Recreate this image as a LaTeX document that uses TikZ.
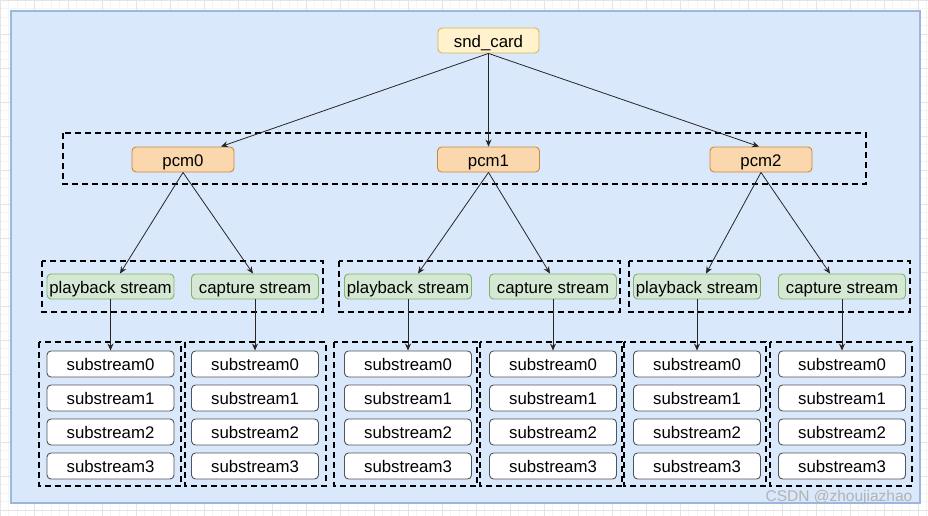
\documentclass[tikz,border=0pt]{standalone}
\usepackage{fontspec}
\setmainfont{Liberation Sans}
\usetikzlibrary{arrows.meta}
\definecolor{bgblue}{HTML}{DAE8FC}
\definecolor{bgblueb}{HTML}{9DB6DD}
\definecolor{sndfill}{HTML}{FFF2CC}
\definecolor{snddraw}{HTML}{D6B656}
\definecolor{pcmfill}{HTML}{FAD7AC}
\definecolor{pcmdraw}{HTML}{C98A3C}
\definecolor{stfill}{HTML}{D5E8D4}
\definecolor{stdraw}{HTML}{82B366}
\definecolor{subdraw}{HTML}{505357}
\definecolor{gridminor}{HTML}{F4F4F4}
\definecolor{gridmajor}{HTML}{E4E4E4}
\tikzset{
  box/.style={rounded corners=4pt, line width=0.9pt, inner sep=0pt,
    font=\fontsize{16.8}{20}\selectfont, text height=13.5pt, text depth=0pt},
  sndbox/.style={box, fill=sndfill, draw=snddraw, minimum width=101pt, minimum height=25pt},
  pcmbox/.style={box, fill=pcmfill, draw=pcmdraw, minimum width=102pt, minimum height=25pt},
  stbox/.style={box, fill=stfill, draw=stdraw, minimum width=127pt, minimum height=25pt},
  subbox/.style={box, fill=white, draw=subdraw, minimum width=127pt, minimum height=26pt},
  grp/.style={draw=black, line width=1.8pt, dash pattern=on 6pt off 4pt, inner sep=0pt},
  conn/.style={draw=black!85, line width=0.8pt, -{Stealth[length=7pt,width=6pt]}}
}
\begin{document}
\begin{tikzpicture}[x=1pt,y=-1pt]
\useasboundingbox (0,0) rectangle (928,516);
% background grid
\fill[white] (0,0) rectangle (928,516);
\draw[gridminor, line width=0.6pt] (0,0) grid[step=8.5pt] (928,516);
\draw[gridmajor, line width=0.8pt] (0,0) grid[step=34pt] (928,516);
% main blue panel
\fill[bgblue] (11,11) rectangle (920,503);
\draw[bgblueb, line width=1.2pt] (11,11) rectangle (920,503);

% dashed group boxes
\draw[grp] (63,133) rectangle (866,184);
\draw[grp] (42,261) rectangle (323,312);
\draw[grp] (339,261) rectangle (620,312);
\draw[grp] (629,261) rectangle (910,312);
\draw[grp] (39,342) rectangle (181,486);
\draw[grp] (185,342) rectangle (326,486);
\draw[grp] (334,342) rectangle (477,486);
\draw[grp] (480,342) rectangle (622,486);
\draw[grp] (624,342) rectangle (766,486);
\draw[grp] (770,342) rectangle (912,486);

% nodes
\node[sndbox] (snd) at (488.5,40.5) {snd\_card};
\node[pcmbox] (pcm0) at (183,159.5) {pcm0};
\node[pcmbox] (pcm1) at (488.5,159.5) {pcm1};
\node[pcmbox] (pcm2) at (761,159.5) {pcm2};

\node[stbox] (pb1) at (110.5,286.5) {playback stream};
\node[stbox] (cp1) at (255,286.5) {capture stream};
\node[stbox] (pb2) at (408,286.5) {playback stream};
\node[stbox] (cp2) at (553,286.5) {capture stream};
\node[stbox] (pb3) at (697,286.5) {playback stream};
\node[stbox] (cp3) at (842,286.5) {capture stream};

\foreach \g/\x in {a/110.5, b/255, c/408, d/553, e/697, f/842}{
  \node[subbox] (\g0) at (\x,364) {substream0};
  \node[subbox] (\g1) at (\x,398) {substream1};
  \node[subbox] (\g2) at (\x,432) {substream2};
  \node[subbox] (\g3) at (\x,466) {substream3};
}

% connectors
\draw[conn] (snd.south) -- ([xshift=38pt]pcm0.north);
\draw[conn] (snd.south) -- (pcm1.north);
\draw[conn] (snd.south) -- ([xshift=-2pt]pcm2.north);

\draw[conn] (pcm0.south) -- ([xshift=9.5pt]pb1.north);
\draw[conn] (pcm0.south) -- ([xshift=-2pt]cp1.north);
\draw[conn] (pcm1.south) -- ([xshift=10pt]pb2.north);
\draw[conn] (pcm1.south) -- ([xshift=-3pt]cp2.north);
\draw[conn] (pcm2.south) -- ([xshift=9pt]pb3.north);
\draw[conn] (pcm2.south) -- ([xshift=-12pt]cp3.north);

\draw[conn] (pb1.south) -- (a0.north);
\draw[conn] (cp1.south) -- (b0.north);
\draw[conn] (pb2.south) -- (c0.north);
\draw[conn] (cp2.south) -- (d0.north);
\draw[conn] (pb3.south) -- (e0.north);
\draw[conn] (cp3.south) -- (f0.north);

% watermark
\node[text=black!30, font=\fontsize{15.5}{17}\selectfont, inner sep=0pt] (wm) at (839,497) {CSDN @zhoujiazhao};
\end{tikzpicture}
\end{document}
